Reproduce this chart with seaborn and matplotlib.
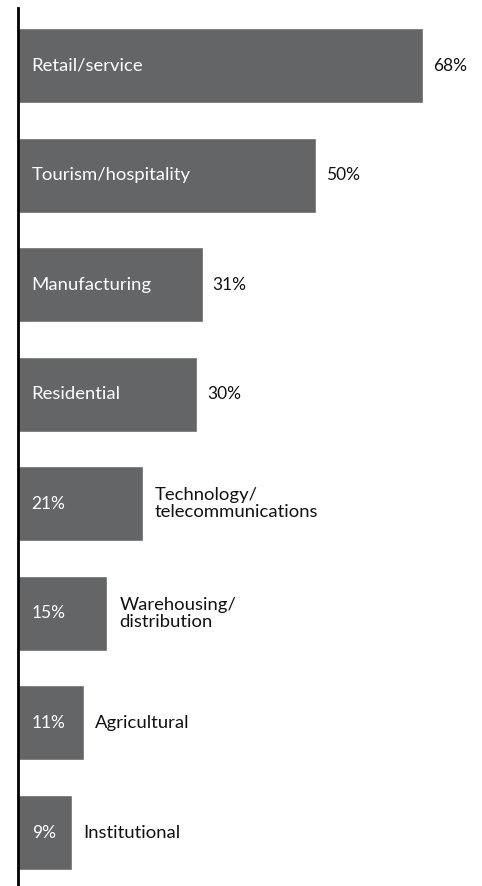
import matplotlib
matplotlib.use("Agg")
import matplotlib.pyplot as plt
import seaborn as sns
import pandas as pd

categories = [
    "Retail/service",
    "Tourism/hospitality",
    "Manufacturing",
    "Residential",
    "Technology/\ntelecommunications",
    "Warehousing/\ndistribution",
    "Agricultural",
    "Institutional",
]
values = [68, 50, 31, 30, 21, 15, 11, 9]

df = pd.DataFrame({"sector": categories, "share": values})

sns.set_theme(style="white")
plt.rcParams["font.family"] = ["Lato", "DejaVu Sans"]

BAR = "#646567"
W, H = 482, 886
fig = plt.figure(figsize=(W / 100, H / 100), dpi=100)
ax = fig.add_axes([18 / W, 0, (W - 18) / W, (H - 8) / H])

sns.barplot(data=df, y="sector", x="share", orient="h", color=BAR,
            saturation=1, width=0.685, ax=ax)

ax.set_xlim(0, 77.9)
ax.set_ylim(7.488, -0.525)
ax.set_xlabel("")
ax.set_ylabel("")
ax.set_xticks([])
ax.set_yticks([])
for s in ["top", "right", "bottom"]:
    ax.spines[s].set_visible(False)
ax.spines["left"].set_color("black")
ax.spines["left"].set_linewidth(2)

fs = 13.3
pct_fs = 12.5
for i, (cat, v) in enumerate(zip(categories, values)):
    if v >= 25:
        ax.text(2.3, i, cat, color="white", va="center", ha="left", fontsize=fs)
        ax.text(v + 1.7, i, f"{v}%", color="#111111", va="center", ha="left", fontsize=pct_fs)
    else:
        ax.text(2.3, i, f"{v}%", color="white", va="center", ha="left", fontsize=pct_fs)
        ax.text(v + 2.0, i, cat, color="#111111", va="center", ha="left", fontsize=fs,
                linespacing=1.1)

fig.savefig("out.png", dpi=100)
